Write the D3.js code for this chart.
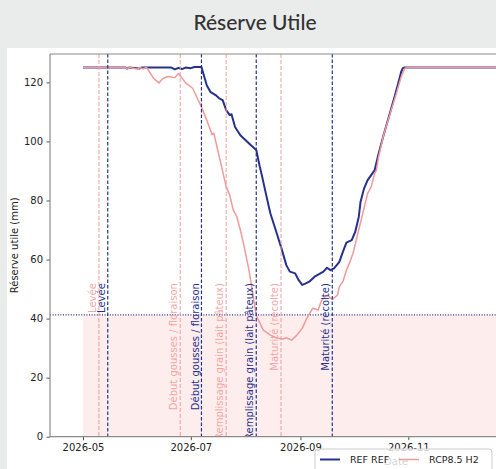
<!DOCTYPE html>
<html>
<head>
<meta charset="utf-8">
<script src="https://cdn.jsdelivr.net/npm/d3@7"></script>
<style>
  html, body { margin: 0; padding: 0; background: #e9eceb; }
  svg { display: block; }
  text { font-family: "DejaVu Sans", sans-serif; }
</style>
</head>
<body>
<svg id="chart" width="496" height="469"></svg>
<script>
// ---------- DATA ----------
const refDates = ["2026-05-01","2026-05-25","2026-05-26","2026-05-27","2026-06-02","2026-06-03","2026-06-20","2026-06-22","2026-06-24","2026-06-26","2026-06-28","2026-07-01","2026-07-03","2026-07-07","2026-07-10","2026-07-12","2026-07-15","2026-07-17","2026-07-19","2026-07-21","2026-07-23","2026-07-24","2026-07-26","2026-07-29","2026-08-01","2026-08-04","2026-08-07","2026-08-09","2026-08-10","2026-08-12","2026-08-15","2026-08-18","2026-08-21","2026-08-24","2026-08-26","2026-08-29","2026-08-31","2026-09-02","2026-09-04","2026-09-06","2026-09-09","2026-09-12","2026-09-14","2026-09-16","2026-09-18","2026-09-20","2026-09-23","2026-09-25","2026-09-27","2026-09-30","2026-10-02","2026-10-04","2026-10-05","2026-10-07","2026-10-09","2026-10-11","2026-10-13","2026-10-15","2026-10-18","2026-10-21","2026-10-24","2026-10-26","2026-10-28","2026-10-29","2026-10-30","2026-12-31"];
const refValues = [125,125,124.6,125,124.7,125,125,124.4,124.9,124.5,125,124.8,125.2,125.2,119,116.8,115.7,114.6,114,110.6,108.9,109.2,104.9,102.1,100.4,98.7,97.1,91.4,89,83.5,75.6,70,64.3,58.1,55.9,55.3,53,51.4,51.9,52.5,54.2,55.2,55.9,57.2,56.4,57,59.2,62.6,65.7,66.6,69.4,74.5,79.6,84.1,86.9,88.6,90.3,95.4,102.1,108.3,114.6,119,123.6,124.9,125,125];

const rcpDates = ["2026-05-01","2026-05-25","2026-05-26","2026-05-27","2026-06-01","2026-06-02","2026-06-04","2026-06-06","2026-06-10","2026-06-13","2026-06-15","2026-06-18","2026-06-22","2026-06-24","2026-06-26","2026-06-28","2026-07-02","2026-07-05","2026-07-07","2026-07-10","2026-07-13","2026-07-14","2026-07-16","2026-07-18","2026-07-21","2026-07-23","2026-07-25","2026-07-27","2026-07-29","2026-07-31","2026-08-03","2026-08-05","2026-08-07","2026-08-11","2026-08-15","2026-08-19","2026-08-22","2026-08-24","2026-08-27","2026-08-30","2026-09-02","2026-09-05","2026-09-08","2026-09-11","2026-09-13","2026-09-16","2026-09-19","2026-09-22","2026-09-23","2026-09-25","2026-09-27","2026-09-29","2026-10-01","2026-10-03","2026-10-06","2026-10-09","2026-10-11","2026-10-13","2026-10-14","2026-10-15","2026-10-18","2026-10-22","2026-10-25","2026-10-28","2026-10-30","2026-10-31","2026-12-31"];
const rcpValues = [125,125,124.5,125,124.5,125,124.6,125,121.3,119.8,121.2,122,121.6,123,121.5,119.8,118,114.2,111.7,107.2,102.3,102.8,97.6,92.5,84.6,81.8,76.7,74.5,70,64.9,56,48.5,41,36.1,34.4,33.3,33.1,33.5,32.7,34.4,36.7,40.6,43.5,42.9,46.3,48,46.5,48,50.8,52.5,56.4,59.2,62.6,67.7,75,82.4,84.6,89.2,90.3,94.2,102.1,110,115.7,121.9,124.7,125,125];

const stageNames = ["Levée", "Début gousses / floraison", "Remplissage grain (lait pâteux)", "Maturité (récolte)"];
const refStageDates = ["2026-05-15", "2026-07-07", "2026-08-07", "2026-09-19"];
const rcpStageDates = ["2026-05-10", "2026-06-25", "2026-07-21", "2026-08-21"];

const thresholdValue = 41.25;
const fillStart = "2026-05-01";
const fillEnd = "2027-05-01";
const xTickDates = ["2026-05-01","2026-07-01","2026-09-01","2026-11-01","2027-01-01"];
const yTicks = [0, 20, 40, 60, 80, 100, 120];
const seriesNames = ["REF REF", "RCP8.5 H2"];

// ---------- STYLE ----------
const NAVY = "#27318c";
const PINK = "#f29a9a";
const parse = d3.timeParse("%Y-%m-%d");

const svg = d3.select("#chart");
// card background
svg.append("rect").attr("x", 7).attr("y", 48).attr("width", 500).attr("height", 430).attr("fill", "#ffffff");

svg.append("text").attr("x", 255).attr("y", 30).attr("text-anchor", "middle")
  .style("font-family", "Lato, 'Open Sans', sans-serif").style("font-size", "21px").style("font-weight", 500)
  .attr("fill", "#333").text("Réserve Utile");

const L = 50, T = 54, B = 436.7, R = 742;
const x = d3.scaleTime().domain([parse("2026-05-01"), parse("2026-11-01")]).range([83, 408.3]);
const y = d3.scaleLinear().domain([0, 129.6]).range([B, T]);

svg.append("defs").append("clipPath").attr("id", "clip")
  .append("rect").attr("x", L).attr("y", T).attr("width", R - L).attr("height", B - T);

const plot = svg.append("g").attr("clip-path", "url(#clip)");

// fill under threshold
plot.append("rect")
  .attr("x", x(parse(fillStart))).attr("y", y(thresholdValue))
  .attr("width", x(parse(fillEnd)) - x(parse(fillStart)))
  .attr("height", y(0) - y(thresholdValue))
  .attr("fill", "#f08080").attr("fill-opacity", 0.14);

// threshold dotted line
plot.append("line").attr("x1", L).attr("x2", R)
  .attr("y1", y(thresholdValue)).attr("y2", y(thresholdValue))
  .attr("stroke", NAVY).attr("stroke-width", 1.1).attr("stroke-dasharray", "1,1.6");

// series lines
const line = d3.line().x(d => x(d[0])).y(d => y(d[1]));
const refData = refDates.map((d, i) => [parse(d), refValues[i]]);
const rcpData = rcpDates.map((d, i) => [parse(d), rcpValues[i]]);
plot.append("path").datum(refData).attr("d", line).attr("fill", "none")
  .attr("stroke", NAVY).attr("stroke-width", 2).attr("stroke-linejoin", "round");
plot.append("path").datum(rcpData).attr("d", line).attr("fill", "none")
  .attr("stroke", PINK).attr("stroke-width", 1.5).attr("stroke-linejoin", "round");

// stage vertical lines + labels
function stages(dates, color, opacity, dash, width) {
  dates.forEach((d, i) => {
    const xx = x(parse(d));
    plot.append("line").attr("x1", xx).attr("x2", xx).attr("y1", T).attr("y2", B)
      .attr("stroke", color).attr("stroke-opacity", opacity)
      .attr("stroke-width", width).attr("stroke-dasharray", dash);
    plot.append("text")
      .attr("transform", `translate(${xx - 2.8},${y(52)}) rotate(-90)`)
      .attr("text-anchor", "end").style("font-size", "10px")
      .attr("fill", color).attr("fill-opacity", opacity).text(stageNames[i]);
  });
}
stages(rcpStageDates, PINK, 0.9, "4,2", 1.1);
stages(refStageDates, NAVY, 1, "3.5,2", 1.2);

// axes
const axisColor = "#8a8a8a";
const gx = svg.append("g").attr("transform", `translate(0,${B})`)
  .call(d3.axisBottom(x).tickValues(xTickDates.map(parse)).tickFormat(d3.timeFormat("%Y-%m")).tickSize(3.5).tickPadding(3.5));
const gy = svg.append("g").attr("transform", `translate(${L},0)`)
  .call(d3.axisLeft(y).tickValues(yTicks).tickSize(3.5).tickPadding(3.5));
[gx, gy].forEach(g => {
  g.select(".domain").remove();
  g.selectAll("line").attr("stroke", "#555");
  g.selectAll("text").style("font-size", "10px").style("font-family", "'DejaVu Sans', sans-serif").attr("fill", "#222");
});
// spines
svg.append("line").attr("x1", L).attr("x2", L).attr("y1", T).attr("y2", B).attr("stroke", axisColor).attr("stroke-width", 1.2);
svg.append("line").attr("x1", L).attr("x2", R).attr("y1", B).attr("y2", B).attr("stroke", axisColor).attr("stroke-width", 1.2);
svg.append("line").attr("x1", L).attr("x2", R).attr("y1", T).attr("y2", T).attr("stroke", axisColor).attr("stroke-width", 1.2);

// axis labels
svg.append("text").attr("transform", `translate(18,${(T + B) / 2}) rotate(-90)`)
  .attr("text-anchor", "middle").style("font-size", "10px").attr("fill", "#222").text("Réserve utile (mm)");
svg.append("text").attr("x", (L + R) / 2).attr("y", 465).attr("text-anchor", "middle")
  .style("font-size", "10px").attr("fill", "#222").text("Date");

// legend
const lg = svg.append("g").attr("transform", "translate(315,449)");
lg.append("rect").attr("width", 177).attr("height", 26).attr("rx", 3)
  .attr("fill", "#fff").attr("fill-opacity", 0.8).attr("stroke", "#cccccc").attr("stroke-width", 1);
const legendItems = [
  {name: seriesNames[0], color: NAVY, w: 2, x0: 5},
  {name: seriesNames[1], color: PINK, w: 1.5, x0: 84}
];
legendItems.forEach(it => {
  lg.append("line").attr("x1", it.x0).attr("x2", it.x0 + 20).attr("y1", 10.5).attr("y2", 10.5)
    .attr("stroke", it.color).attr("stroke-width", it.w);
  lg.append("text").attr("x", it.x0 + 30).attr("y", 14).style("font-size", "9.5px").attr("fill", "#222").text(it.name);
});
</script>
</body>
</html>
